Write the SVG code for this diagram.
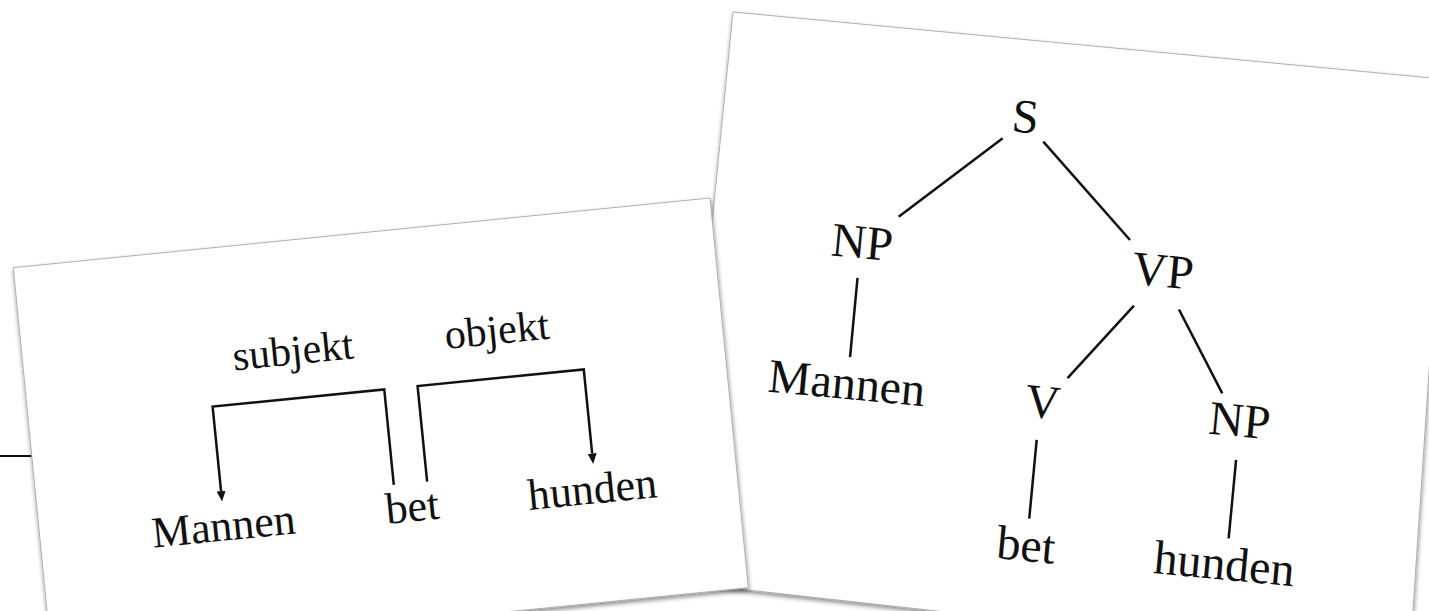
<svg xmlns="http://www.w3.org/2000/svg" width="1429" height="611" viewBox="0 0 1429 611">
  <style>
    .card { fill: #ffffff; stroke: #a8a8a8; stroke-width: 0.9; filter: url(#shadow); }
    .ln { fill: none; stroke: #111111; stroke-width: 2.5; stroke-linecap: butt; stroke-linejoin: miter; }
    .t { font-family: "Liberation Serif", "DejaVu Serif", serif; fill: #111111; }
    .lbl { font-size: 42px; }
    .wd { font-size: 44px; }
    .tr { font-size: 48px; text-anchor: middle; }
  </style>
  <defs>
    <filter id="shadow" x="-5%" y="-5%" width="110%" height="115%">
      <feDropShadow dx="0.5" dy="2.5" stdDeviation="2.2" flood-color="#000000" flood-opacity="0.45"/>
    </filter>
    <marker id="arrow" markerUnits="userSpaceOnUse" markerWidth="11" markerHeight="10" refX="0" refY="4.5" orient="auto">
      <path d="M0,0 L10.5,4.5 L0,9 Z" fill="#111111"/>
    </marker>
  </defs>
  <rect width="1429" height="611" fill="#ffffff"/>

  <!-- Right card: constituency tree (behind) -->
  <g id="card-tree">
    <polygon class="card" points="733,12 1448.6,79.6 1409.4,663.4 676.4,582.1"/>
    <g transform="translate(733,12) rotate(5.4)">
      <g id="tree-connectors">
        <line class="ln" x1="280.4" y1="100.4" x2="184.2" y2="188.2"/>
        <line class="ln" x1="321.1" y1="99.9" x2="416.7" y2="189.6"/>
        <line class="ln" x1="149" y1="253" x2="149" y2="332.5"/>
        <line class="ln" x1="426.8" y1="254.5" x2="367.5" y2="333"/>
        <line class="ln" x1="472" y1="254.2" x2="523" y2="333.6"/>
        <line class="ln" x1="342.6" y1="397.5" x2="342.6" y2="476.5"/>
        <line class="ln" x1="543" y1="398.5" x2="543" y2="477.5"/>
      </g>
      <g id="tree-S"><text class="t tr" x="301" y="92.6">S</text></g>
      <g id="tree-NP1"><text class="t tr" x="150.5" y="233">NP</text></g>
      <g id="tree-VP"><text class="t tr" x="452.5" y="233">VP</text></g>
      <g id="tree-Mannen"><text class="t tr" x="148.3" y="374.5">Mannen</text></g>
      <g id="tree-V"><text class="t tr" x="345" y="375">V</text></g>
      <g id="tree-NP2"><text class="t tr" x="543" y="375">NP</text></g>
      <g id="tree-bet"><text class="t tr" x="342" y="519">bet</text></g>
      <g id="tree-hunden"><text class="t tr" x="541" y="519">hunden</text></g>
    </g>
  </g>

  <!-- partial line behind left card -->
  <line x1="0" y1="456" x2="40" y2="456" stroke="#111111" stroke-width="2"/>

  <!-- Left card: dependency diagram (front) -->
  <g id="card-dependency">
    <polygon class="card" points="13.3,267.7 710,198 748.3,587.7 51.6,657.4"/>
    <g transform="translate(13.3,267.7) rotate(-5.71)">
      <g id="dep-connectors">
        <path class="ln" d="M357,254 L357,158 L184.5,158 L184.5,243" marker-end="url(#arrow)"/>
        <path class="ln" d="M390.5,254 L390.5,158 L557.5,158 L557.5,242.5" marker-end="url(#arrow)"/>
        <text class="t lbl" x="209.4" y="124.2">subjekt</text>
        <text class="t lbl" x="422.4" y="124">objekt</text>
      </g>
      <g id="dep-Mannen"><text class="t wd" x="111.4" y="292.5">Mannen</text></g>
      <g id="dep-bet"><text class="t wd" x="346.3" y="292.2">bet</text></g>
      <g id="dep-hunden"><text class="t wd" x="489.3" y="292.4">hunden</text></g>
    </g>
  </g>
</svg>
